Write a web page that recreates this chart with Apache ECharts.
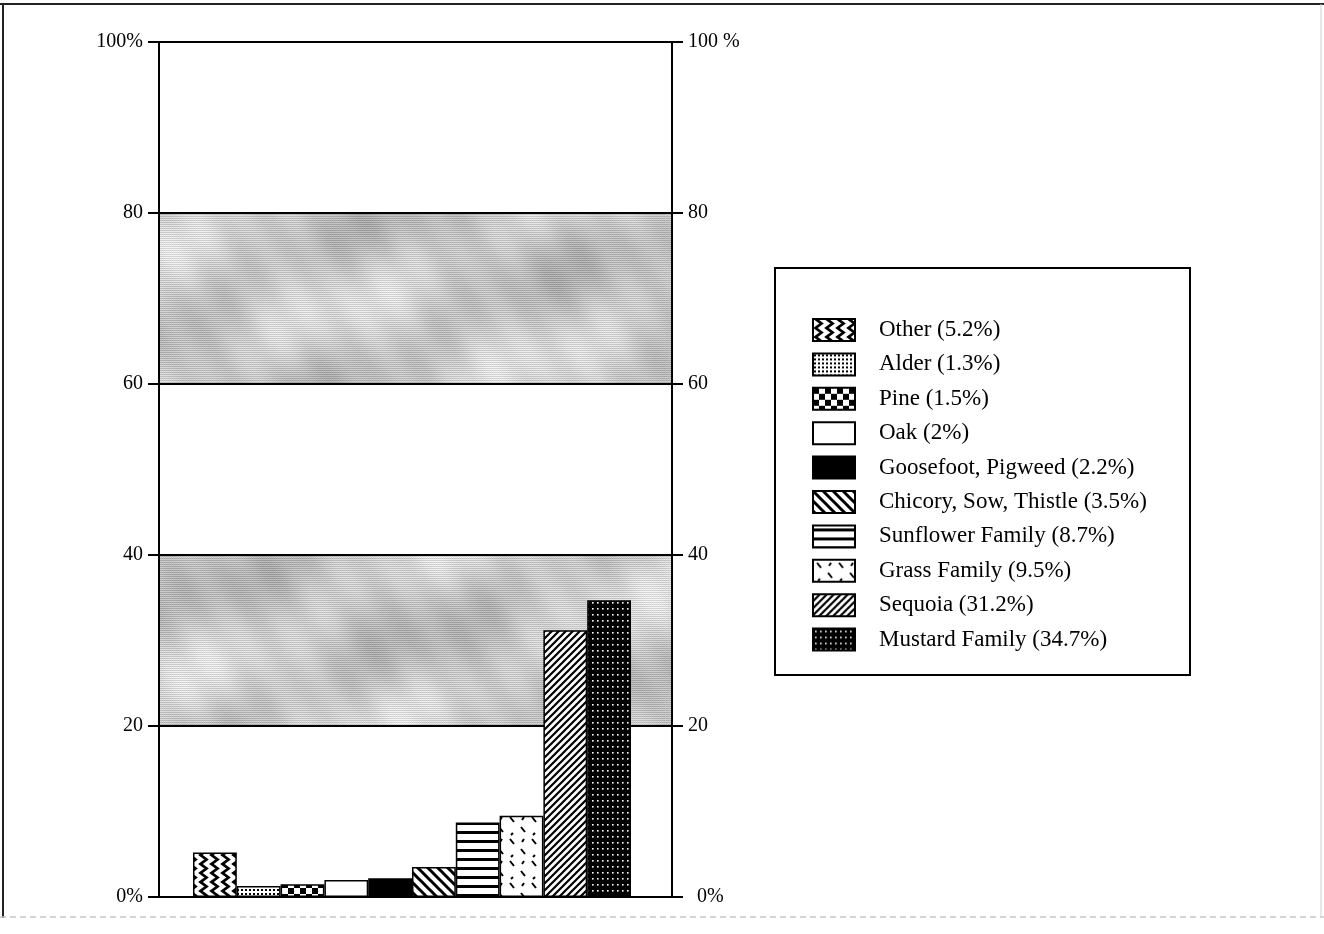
<!DOCTYPE html>
<html>
<head>
<meta charset="utf-8">
<title>Pollen composition</title>
<script src="https://cdn.jsdelivr.net/npm/echarts@6/dist/echarts.min.js"></script>
<style>
  html, body { margin: 0; padding: 0; background: #fff; }
  #chart { width: 1324px; height: 934px; }
</style>
</head>
<body>
<div id="chart"></div>
<script>
// Pollen types and their share of the sample (percent)
const categories = ['Other', 'Alder', 'Pine', 'Oak', 'Goosefoot, Pigweed', 'Chicory, Sow, Thistle',
  'Sunflower Family', 'Grass Family', 'Sequoia', 'Mustard Family'];
const shares = [5.2, 1.3, 1.5, 2, 2.2, 3.5, 8.7, 9.5, 31.2, 34.7];

// Axis ticks and their labels on each side
const tickValues = [0, 20, 40, 60, 80, 100];
const leftTickLabels = ['0%', '20', '40', '60', '80', '100%'];
const rightTickLabels = ['0%', '20', '40', '60', '80', '100 %'];

const FONT = '"Liberation Serif", "DejaVu Serif", serif';

// ---- fill patterns -------------------------------------------------------
function makePattern(w, h, draw) {
  const c = document.createElement('canvas');
  c.width = w; c.height = h;
  const ctx = c.getContext('2d');
  ctx.fillStyle = '#fff';
  ctx.fillRect(0, 0, w, h);
  ctx.fillStyle = '#000';
  ctx.strokeStyle = '#000';
  draw(ctx, w, h);
  return { image: c, repeat: 'repeat' };
}

const patterns = [
  // zigzag columns
  makePattern(11, 18, (ctx) => {
    ctx.lineWidth = 2.8;
    ctx.lineJoin = 'miter';
    ctx.beginPath();
    ctx.moveTo(8.5, -4.5); ctx.lineTo(2.5, 0); ctx.lineTo(8.5, 4.5); ctx.lineTo(2.5, 9);
    ctx.lineTo(8.5, 13.5); ctx.lineTo(2.5, 18); ctx.lineTo(8.5, 22.5);
    ctx.stroke();
  }),
  // fine dots
  makePattern(4, 4, (ctx) => { ctx.fillRect(1, 1, 2, 2); }),
  // checkerboard
  makePattern(12, 12, (ctx) => { ctx.fillRect(0, 0, 6, 6); ctx.fillRect(6, 6, 6, 6); }),
  // plain white
  '#ffffff',
  // solid black
  '#000000',
  // thick back-diagonal stripes
  makePattern(10, 10, (ctx) => {
    ctx.lineWidth = 3;
    ctx.beginPath();
    for (let k = -1; k <= 1; k++) { ctx.moveTo(k * 10 - 2, -2); ctx.lineTo(k * 10 + 12, 12); }
    ctx.stroke();
  }),
  // horizontal stripes
  makePattern(8, 9, (ctx) => { ctx.fillRect(0, 3, 8, 3); }),
  // scattered dashes
  makePattern(22, 22, (ctx) => {
    ctx.lineWidth = 2;
    ctx.beginPath();
    ctx.moveTo(4, 3); ctx.lineTo(8, 8);
    ctx.moveTo(15, 13); ctx.lineTo(19, 18);
    ctx.moveTo(18, 3); ctx.lineTo(16, 6);
    ctx.moveTo(7, 19); ctx.lineTo(5, 21);
    ctx.stroke();
  }),
  // forward-diagonal stripes
  makePattern(7, 7, (ctx) => {
    ctx.lineWidth = 2.2;
    ctx.beginPath();
    for (let k = -1; k <= 1; k++) { ctx.moveTo(k * 7 - 2, 9); ctx.lineTo(k * 7 + 9, -2); }
    ctx.stroke();
  }),
  // black with white dots
  makePattern(5, 6, (ctx, w, h) => {
    ctx.fillRect(0, 0, w, h);
    ctx.fillStyle = '#fff';
    ctx.fillRect(2, 2, 1.6, 1.6);
  })
];

// mottled halftone grey for the shaded bands (one tile the size of the page, so it never repeats)
function makeGreyTexture() {
  const w = 1324, h = 934;
  const c = document.createElement('canvas');
  c.width = w; c.height = h;
  const ctx = c.getContext('2d');
  const img = ctx.createImageData(w, h);
  for (let y = 0; y < h; y++) {
    for (let x = 0; x < w; x++) {
      const m = 0.5 + 0.22 * Math.sin(x * 0.021 + y * 0.043)
                    + 0.18 * Math.sin(x * 0.009 - y * 0.031 + 1.7)
                    + 0.10 * Math.sin(x * 0.057 + y * 0.013 + 0.4)
                    + 0.08 * Math.sin(x * 0.13 - y * 0.09 + 2.2);
      let g = 172 + 56 * m;
      g += (y % 2 === 0) ? -18 : 14;
      g += ((x + y) % 2 === 0) ? -8 : 8;
      g = Math.max(110, Math.min(250, g));
      const i = (y * w + x) * 4;
      img.data[i] = img.data[i + 1] = img.data[i + 2] = g;
      img.data[i + 3] = 255;
    }
  }
  ctx.putImageData(img, 0, 0);
  return { image: c, repeat: 'no-repeat' };
}
const greyBand = makeGreyTexture();

// ---- chart ---------------------------------------------------------------
const chart = echarts.init(document.getElementById('chart'), null, { renderer: 'canvas' });

const legendNames = categories.map((c, i) => `${c} (${shares[i]}%)`);

const series = categories.map((c, i) => ({
  name: legendNames[i],
  type: 'bar',
  stack: 'pollen',
  xAxisIndex: 1,
  yAxisIndex: 2,
  barCategoryGap: '0%',
  data: shares.map((v, j) => (j === i ? v : '-')),
  itemStyle: { color: patterns[i], borderColor: '#000', borderWidth: 1.5 },
  emphasis: { disabled: true },
  animation: false
}));

function labelFor(list) {
  return (v) => {
    const k = tickValues.indexOf(v);
    return k >= 0 ? list[k] : '';
  };
}

const axisCommon = {
  type: 'value',
  gridIndex: 0,
  min: 0,
  max: 100,
  interval: 20,
  axisLine: { show: true, lineStyle: { color: '#000', width: 2 } },
  axisTick: { show: true, inside: false, length: 11, lineStyle: { color: '#000', width: 2 } },
};

chart.setOption({
  animation: false,
  backgroundColor: '#fff',
  textStyle: { fontFamily: FONT },
  grid: [
    { left: 159, top: 42, width: 513, height: 855 },
    { left: 193, top: 42, width: 438, height: 855 }
  ],
  xAxis: [
    { type: 'value', gridIndex: 0, min: 0, max: 1, show: false },
    { type: 'category', gridIndex: 1, data: categories, show: false }
  ],
  yAxis: [
    Object.assign({}, axisCommon, {
      position: 'left',
      splitLine: { show: true, lineStyle: { color: '#000', width: 2 } },
      splitArea: { show: true, areaStyle: { color: ['#ffffff', greyBand] } },
      axisLabel: { margin: 16, color: '#000', fontSize: 20, fontFamily: FONT, formatter: labelFor(leftTickLabels) }
    }),
    Object.assign({}, axisCommon, {
      position: 'right',
      splitLine: { show: false },
      axisLabel: {
        margin: 16, color: '#000', fontSize: 20, fontFamily: FONT,
        formatter: (v) => (v === 0 ? '{z|' + rightTickLabels[0] + '}' : labelFor(rightTickLabels)(v)),
        rich: { z: { padding: [0, 0, 0, 9], fontSize: 20, fontFamily: FONT, color: '#000' } }
      }
    }),
    { type: 'value', gridIndex: 1, min: 0, max: 100, show: false }
  ],
  legend: {
    orient: 'vertical',
    left: 807,
    top: 313,
    padding: 5,
    icon: 'rect',
    itemWidth: 42,
    itemHeight: 22,
    itemGap: 10.4,
    selectedMode: false,
    data: legendNames,
    textStyle: { fontFamily: FONT, fontSize: 23, color: '#000', padding: [0, 0, 0, 19] }
  },
  graphic: [
    // legend frame
    { type: 'rect', z: 0, shape: { x: 775, y: 268, width: 415, height: 407 },
      style: { fill: '#fff', stroke: '#000', lineWidth: 2 } },
    // page frame
    { type: 'line', z: 0, shape: { x1: 0, y1: 4, x2: 1324, y2: 4 }, style: { stroke: '#222', lineWidth: 2 } },
    { type: 'line', z: 0, shape: { x1: 3, y1: 4, x2: 3, y2: 918 }, style: { stroke: '#222', lineWidth: 2 } },
    { type: 'line', z: 0, shape: { x1: 0, y1: 917, x2: 1324, y2: 917 }, style: { stroke: '#c8c8c8', lineWidth: 1.5, lineDash: [6, 4] } },
    { type: 'line', z: 0, shape: { x1: 1321, y1: 4, x2: 1321, y2: 918 }, style: { stroke: '#d0d0d0', lineWidth: 1 } }
  ],
  series: series
});
</script>
</body>
</html>
